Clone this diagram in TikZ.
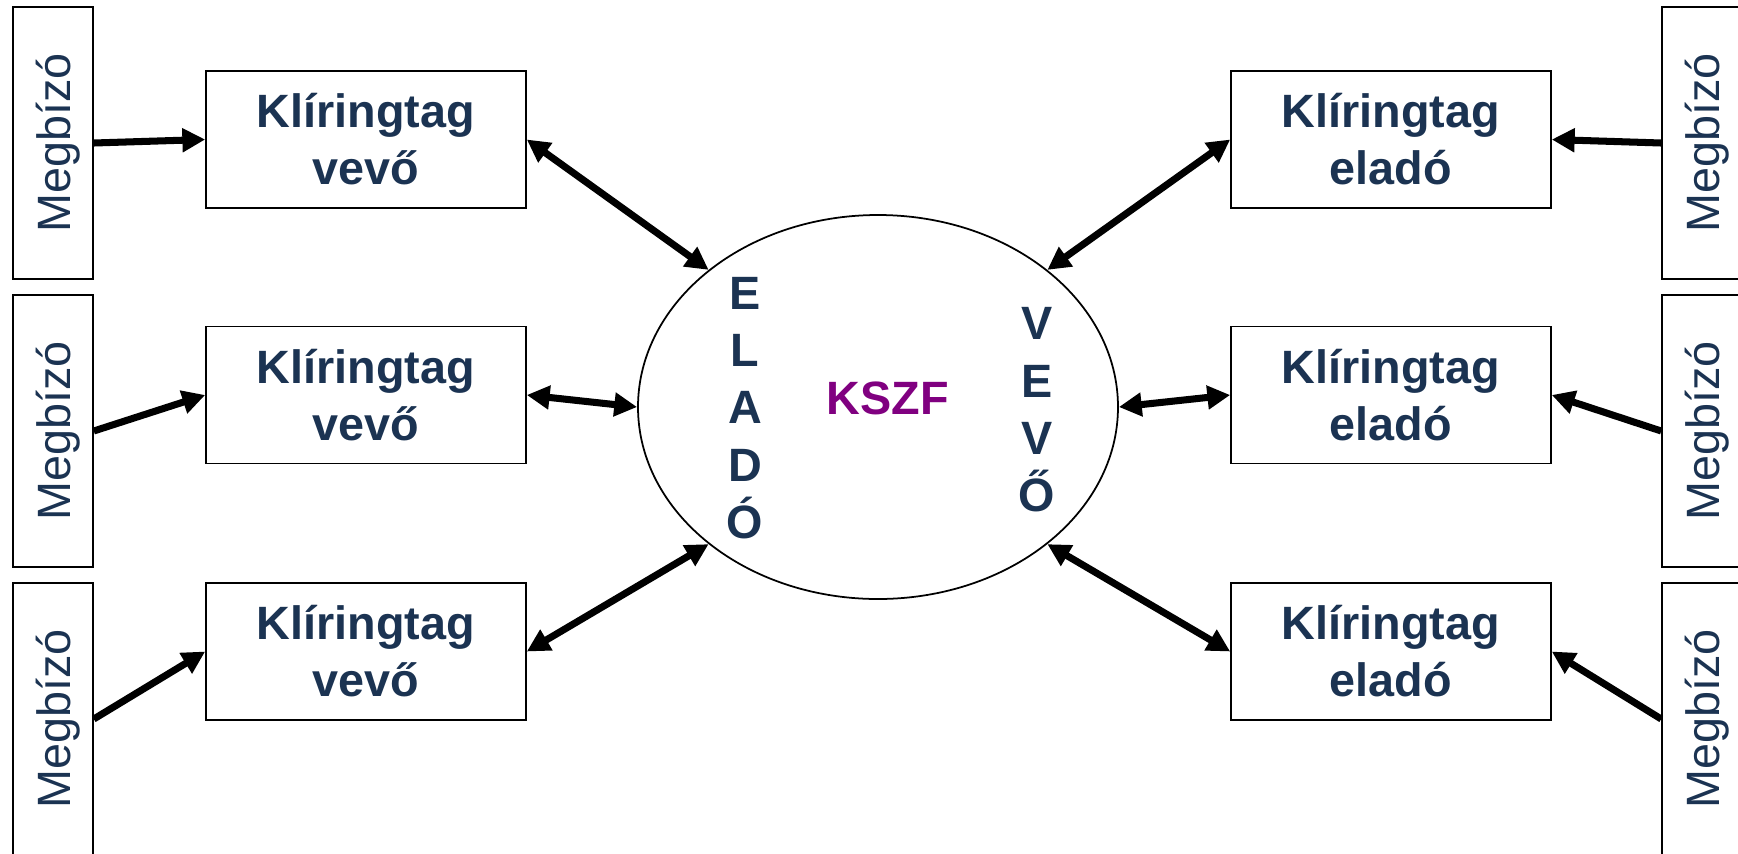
\documentclass[tikz,border=0pt]{standalone}
\usepackage{fontspec}
\setmainfont{Liberation Sans}
\usepackage{graphicx}
\usepackage{tikz}
\usetikzlibrary{arrows.meta,positioning,shapes.geometric}
\definecolor{txtblue}{RGB}{27,51,82}
\definecolor{kszfpurple}{RGB}{128,0,128}

\begin{document}
\begin{tikzpicture}[x=0.1mm,y=-0.1mm,
  every node/.style={text=txtblue,inner sep=0pt},
  megbizo/.style={draw,line width=0.45pt,minimum width=8mm,minimum height=27.2mm,
    font=\fontsize{13.3}{16}\selectfont},
  tag/.style={draw,line width=0.45pt,minimum width=32mm,minimum height=13.7mm,
    align=center,font=\bfseries\fontsize{13.3}{16.2}\selectfont},
  letters/.style={align=center,font=\bfseries\fontsize{13.3}{16.3}\selectfont},
  feed/.style={line width=2pt,-{Triangle[length=6.5pt,width=6.5pt]}},
  link/.style={line width=2pt,{Triangle[length=6.5pt,width=6.5pt]}-{Triangle[length=6.5pt,width=6.5pt]}}]

  \useasboundingbox (0,0) rectangle (1738,853);

  % Central counterparty
  \node[draw,ellipse,line width=0.5pt,minimum width=48mm,minimum height=38.4mm] (kszf) at (878,407) {};
  \node[text=kszfpurple,font=\bfseries\fontsize{13.3}{16}\selectfont] (name) at (888,398) {KSZF};
  \node[letters] (elado) at (745,408) {E\\L\\A\\D\\Ó};
  \node[letters] (vevo) at (1037,410) {V\\E\\V\\Ő};

  % Buyer side
  \foreach \i/\my/\ky/\ang in {1/143/139.5/141, 2/431/395/180, 3/719/651.5/219} {
    \node[megbizo] (ml\i) at (53,\my) {\hspace*{3pt}\rotatebox{90}{Megbízó}};
    \node[tag] (kl\i) at (366,\ky) {Klíringtag\\vevő};
    \draw[feed] (ml\i.east) -- (kl\i.west);
    \draw[link] (kl\i.east) -- (kszf.\ang);
  }

  % Seller side
  \foreach \i/\my/\ky/\ang in {1/143/139.5/39, 2/431/395/0, 3/719/651.5/321} {
    \node[megbizo] (mr\i) at (1702,\my) {\hspace*{3pt}\rotatebox{90}{Megbízó}};
    \node[tag] (kr\i) at (1391,\ky) {Klíringtag\\eladó};
    \draw[feed] (mr\i.west) -- (kr\i.east);
    \draw[link] (kr\i.west) -- (kszf.\ang);
  }
\end{tikzpicture}
\end{document}
